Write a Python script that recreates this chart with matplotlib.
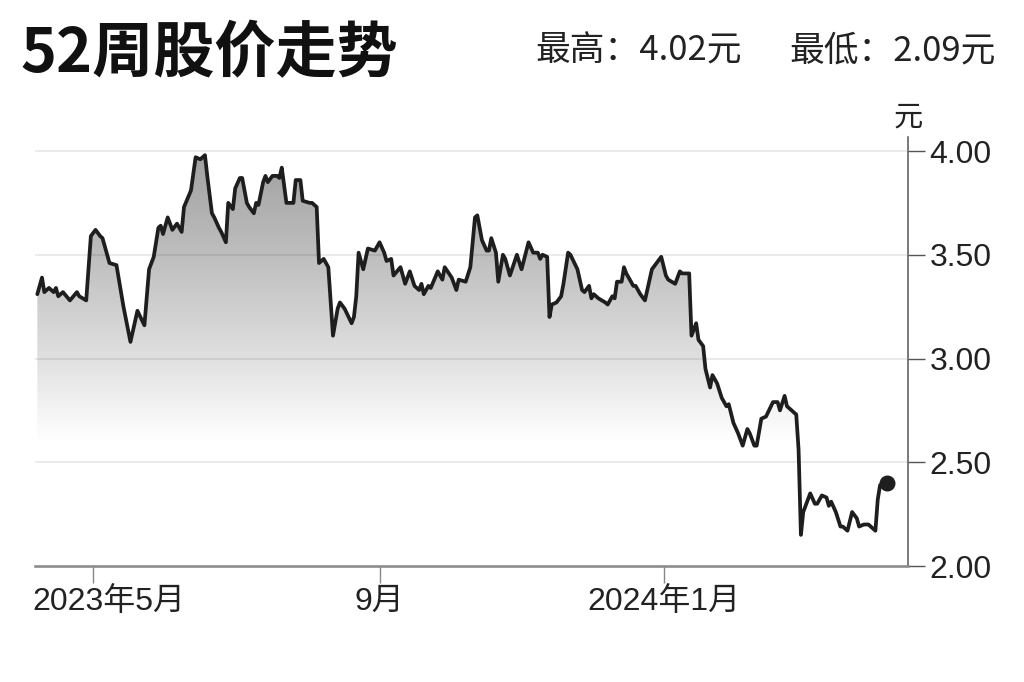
import numpy as np
import pandas as pd
import matplotlib
matplotlib.use('Agg')
import matplotlib.pyplot as plt
import matplotlib.dates as mdates
from matplotlib.transforms import ScaledTranslation

# ---------------- data ----------------
start_date = '2023-04-06'
end_date = '2024-04-15'
day_offset = [
    1, 3, 4, 6, 8, 9, 10, 12, 15, 18, 19, 22, 24, 26, 28, 29, 32, 35, 38, 41,
    44, 47, 49, 51, 53, 54, 55, 57, 59, 61, 63, 64, 67, 69, 71, 73, 74, 76, 77, 79,
    80, 82, 83, 85, 86, 88, 89, 91, 92, 94, 95, 96, 98, 99, 100, 102, 104, 105, 106, 108,
    111, 112, 114, 115, 118, 119, 121, 122, 124, 126, 128, 130, 131, 133, 136, 137, 138, 139, 141, 143,
    146, 148, 150, 151, 153, 154, 157, 159, 161, 163, 165, 166, 167, 169, 170, 173, 175, 176, 179, 181,
    182, 185, 187, 189, 190, 192, 194, 195, 196, 198, 199, 201, 202, 204, 207, 209, 212, 214, 216, 217,
    218, 220, 221, 222, 224, 226, 227, 229, 230, 233, 235, 236, 238, 239, 240, 242, 245, 246, 248, 249,
    250, 252, 253, 254, 257, 258, 260, 262, 264, 265, 267, 269, 271, 272, 275, 277, 278, 281, 282, 284,
    285, 287, 288, 290, 291, 293, 295, 297, 298, 300, 302, 304, 306, 307, 309, 310, 312, 314, 317, 319,
    320, 322, 323, 325, 327, 328, 329, 330, 333, 335, 336, 338, 340, 341, 342, 344, 346, 347, 349, 351,
    353, 354, 356, 358, 361, 362, 363, 366,
]
price = [
    3.31, 3.39, 3.32, 3.34, 3.32, 3.34, 3.30, 3.32, 3.28, 3.32, 3.30, 3.28, 3.59, 3.62, 3.59, 3.58, 3.46, 3.45, 3.25, 3.08,
    3.23, 3.16, 3.43, 3.49, 3.63, 3.64, 3.60, 3.68, 3.62, 3.65, 3.61, 3.73, 3.81, 3.97, 3.96, 3.98, 3.88, 3.70, 3.68, 3.63,
    3.61, 3.56, 3.75, 3.72, 3.82, 3.87, 3.87, 3.75, 3.73, 3.70, 3.75, 3.74, 3.85, 3.88, 3.85, 3.88, 3.88, 3.87, 3.92, 3.75,
    3.75, 3.86, 3.86, 3.76, 3.75, 3.75, 3.73, 3.46, 3.48, 3.44, 3.11, 3.24, 3.27, 3.24, 3.17, 3.20, 3.30, 3.51, 3.43, 3.53,
    3.52, 3.56, 3.51, 3.47, 3.48, 3.40, 3.44, 3.36, 3.42, 3.35, 3.33, 3.36, 3.31, 3.35, 3.34, 3.42, 3.38, 3.44, 3.39, 3.33,
    3.38, 3.37, 3.44, 3.68, 3.69, 3.57, 3.52, 3.52, 3.58, 3.51, 3.37, 3.50, 3.48, 3.40, 3.50, 3.43, 3.56, 3.51, 3.51, 3.48,
    3.50, 3.49, 3.20, 3.26, 3.27, 3.30, 3.36, 3.51, 3.50, 3.43, 3.33, 3.32, 3.35, 3.29, 3.31, 3.29, 3.27, 3.26, 3.30, 3.29,
    3.37, 3.37, 3.44, 3.41, 3.35, 3.35, 3.31, 3.28, 3.38, 3.43, 3.46, 3.49, 3.40, 3.38, 3.36, 3.42, 3.41, 3.41, 3.11, 3.17,
    3.09, 3.06, 2.95, 2.86, 2.92, 2.88, 2.81, 2.77, 2.78, 2.69, 2.64, 2.58, 2.66, 2.64, 2.58, 2.58, 2.71, 2.72, 2.79, 2.79,
    2.75, 2.82, 2.77, 2.75, 2.73, 2.56, 2.15, 2.26, 2.35, 2.30, 2.30, 2.34, 2.33, 2.29, 2.31, 2.26, 2.19, 2.19, 2.17, 2.26,
    2.23, 2.19, 2.20, 2.20, 2.17, 2.32, 2.39, 2.40,
]
xtick_dates = ['2023-05-01', '2023-09-01', '2024-01-01']
xtick_labels = ['2023年5月', '9月', '2024年1月']
ytick_values = [2.0, 2.5, 3.0, 3.5, 4.0]
y_range = [2.0, 4.0675]
title_text = '52周股价走势'
high_text = '最高：4.02元'
low_text = '最低：2.09元'
unit_text = '元'

# ---------------- style ----------------
plt.rcParams['font.family'] = ['Liberation Sans', 'Noto Sans CJK SC']
W, H = 1024, 682

dates = pd.Timestamp(start_date) + pd.to_timedelta(day_offset, unit='D')
x = mdates.date2num(dates.to_pydatetime())
y = np.array(price)

fig = plt.figure(figsize=(W / 100, H / 100), dpi=100)
fig.patch.set_facecolor('white')
ax = fig.add_axes([35 / W, 1 - 566 / H, 873 / W, 429 / H])
xmin = mdates.date2num(pd.Timestamp(start_date).to_pydatetime())
xmax = mdates.date2num(pd.Timestamp(end_date).to_pydatetime())
ax.set_xlim(xmin, xmax)
ax.set_ylim(*y_range)

# gradient fill under the line
yy = np.linspace(y_range[0], y_range[1], 400)
lv = np.interp(yy, [2.0, 2.6, 2.75, 3.0, 3.25, 3.5, 4.0, 4.07],
               [255, 255, 244, 224, 207, 190, 160, 156]) / 255.0
img = np.dstack([lv, lv, lv]).reshape(len(yy), 1, 3)
im = ax.imshow(img, extent=[xmin, xmax, y_range[0], y_range[1]], origin='lower',
               aspect='auto', interpolation='bilinear', zorder=1)
fill = ax.fill_between(x, y, y_range[0], facecolor='none', edgecolor='none')
im.set_clip_path(fill.get_paths()[0], transform=ax.transData)

# grid
for gv in ytick_values[1:]:
    ax.axhline(gv, color='black', alpha=0.08, lw=1.4, zorder=2)

# line and end dot
ax.plot(x, y, color='#1e1e1e', lw=2.7, solid_joinstyle='round',
        solid_capstyle='round', zorder=4)
ax.plot(x[-1], y[-1], 'o', ms=10.5, color='#1e1e1e', zorder=5, clip_on=False)

# spines
for s in ['left', 'top']:
    ax.spines[s].set_visible(False)
ax.spines['right'].set_color('#555555')
ax.spines['right'].set_linewidth(1.1)
ax.spines['bottom'].set_color('#8c8c8c')
ax.spines['bottom'].set_linewidth(1.9)
ax.spines['bottom'].set_zorder(6)

# ticks
ax.yaxis.tick_right()
ax.set_yticks(ytick_values)
ax.set_yticklabels([f'{v:.2f}' for v in ytick_values])
ax.tick_params(axis='y', length=12, width=1.0, color='#555555', pad=3.5,
               labelsize=23, labelcolor='#222222')
ax.set_xticks(mdates.date2num(pd.to_datetime(xtick_dates).to_pydatetime()))
ax.set_xticklabels(xtick_labels)
ax.tick_params(axis='x', length=12, width=1.0, color='#888888', pad=3,
               labelsize=23, labelcolor='#222222')
first = ax.get_xticklabels()[0]
first.set_transform(first.get_transform() + ScaledTranslation(0.16, 0, fig.dpi_scale_trans))

# texts
fig.text(908 / W, 1 - 118 / H, unit_text, ha='center', va='center', fontsize=21,
         color='#222222', family=['Noto Sans CJK SC'])
fig.text(20 / W, 1 - 54 / H, title_text, ha='left', va='center', fontsize=44,
         fontweight='bold', color='#111111', family=['Noto Sans CJK SC'])
fig.text(535 / W, 1 - 51 / H, high_text, ha='left', va='center', fontsize=25,
         color='#222222', family=['Noto Sans CJK SC'])
fig.text(996 / W, 1 - 51 / H, low_text, ha='right', va='center', fontsize=25,
         color='#222222', family=['Noto Sans CJK SC'])

fig.savefig('out.png', dpi=100, facecolor='white')
